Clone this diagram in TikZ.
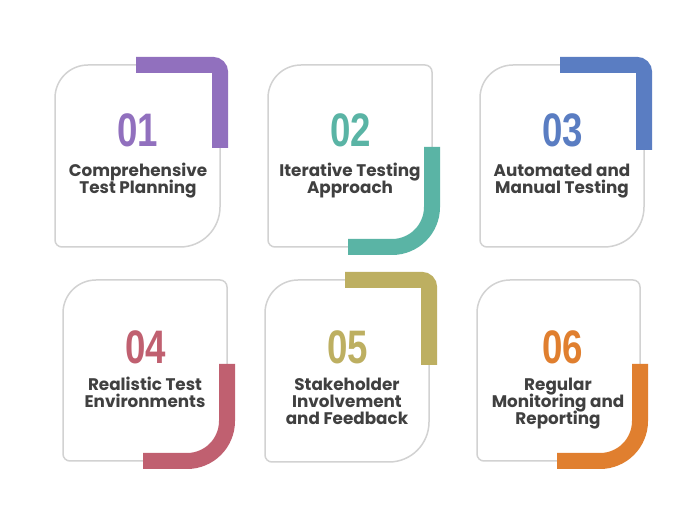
\documentclass[tikz,border=0pt]{standalone}
\usepackage{fontspec}
\setmainfont{Poppins}
\newfontfamily\numfont{Liberation Sans}[FakeStretch=0.78]
\definecolor{cardgray}{HTML}{D2D2D2}
\definecolor{txtgray}{HTML}{404040}
\definecolor{cpurple}{HTML}{9170BE}
\definecolor{cteal}{HTML}{5AB4A5}
\definecolor{cblue}{HTML}{5A7DC2}
\definecolor{crose}{HTML}{C06070}
\definecolor{colive}{HTML}{BDAF61}
\definecolor{corange}{HTML}{E07F2F}
\tikzset{
  card/.style={draw=cardgray, line width=1.5pt},
  cardshape/.style n args={4}{insert path={(#1,-#2-33) arc[start angle=180,end angle=90,radius=33pt] -- (#3-7,-#2) arc[start angle=90,end angle=0,radius=7pt] -- (#3,-#4+40) arc[start angle=0,end angle=-90,radius=40pt] -- (#1+7,-#4) arc[start angle=-90,end angle=-180,radius=7pt] -- cycle}},
  bar/.style={line width=16pt, line cap=butt},
  num/.style={font=\numfont\bfseries\fontsize{47}{47}\selectfont, anchor=base, inner sep=0pt},
  lbl/.style={font=\bfseries\fontsize{16.8}{17}\selectfont, text=txtgray, anchor=base, inner sep=0pt},
}
\begin{document}
\begin{tikzpicture}[x=1pt,y=1pt]
\useasboundingbox[fill=white] (0,0) rectangle (697,-521);
% cards
\draw[card, cardshape={55}{65}{220}{247}];
\draw[card, cardshape={268}{65}{432}{247}];
\draw[card, cardshape={480}{65}{644}{247}];
\draw[card, cardshape={63}{280}{227}{461}];
\draw[card, cardshape={265}{280}{429}{462}];
\draw[card, cardshape={477}{280}{640}{461}];
% coloured bars
\draw[bar, cpurple] (136,-65) -- (213,-65) arc[start angle=90,end angle=0,radius=7pt] -- (220,-148);
\draw[bar, cteal] (432,-147) -- (432,-207) arc[start angle=0,end angle=-90,radius=40pt] -- (348,-247);
\draw[bar, cblue] (560,-65) -- (637,-65) arc[start angle=90,end angle=0,radius=7pt] -- (644,-150);
\draw[bar, crose] (227,-364) -- (227,-421) arc[start angle=0,end angle=-90,radius=40pt] -- (143,-461);
\draw[bar, colive] (345,-280) -- (422,-280) arc[start angle=90,end angle=0,radius=7pt] -- (429,-365);
\draw[bar, corange] (640,-364) -- (640,-421) arc[start angle=0,end angle=-90,radius=40pt] -- (557,-461);
% numbers
\node[num, text=cpurple] (n1) at (138,-147) {01};
\node[num, text=cteal] (n2) at (351,-147) {02};
\node[num, text=cblue] (n3) at (563,-147) {03};
\node[num, text=crose] (n4) at (146,-364) {04};
\node[num, text=colive] (n5) at (348,-364) {05};
\node[num, text=corange] (n6) at (563,-364) {06};
% labels
\node[lbl] (t1a) at (138,-177) {Comprehensive};
\node[lbl] (t1b) at (138,-194) {Test Planning};
\node[lbl] (t2a) at (350,-177) {Iterative Testing};
\node[lbl] (t2b) at (350,-194) {Approach};
\node[lbl] (t3a) at (562,-177) {Automated and};
\node[lbl] (t3b) at (562,-194) {Manual Testing};
\node[lbl] (t4a) at (145,-391) {Realistic Test};
\node[lbl] (t4b) at (145,-408) {Environments};
\node[lbl] (t5a) at (347,-391) {Stakeholder};
\node[lbl] (t5b) at (347,-408) {Involvement};
\node[lbl] (t5c) at (347,-425) {and Feedback};
\node[lbl] (t6a) at (558,-391) {Regular};
\node[lbl] (t6b) at (558,-408) {Monitoring and};
\node[lbl] (t6c) at (558,-425) {Reporting};
\end{tikzpicture}
\end{document}
